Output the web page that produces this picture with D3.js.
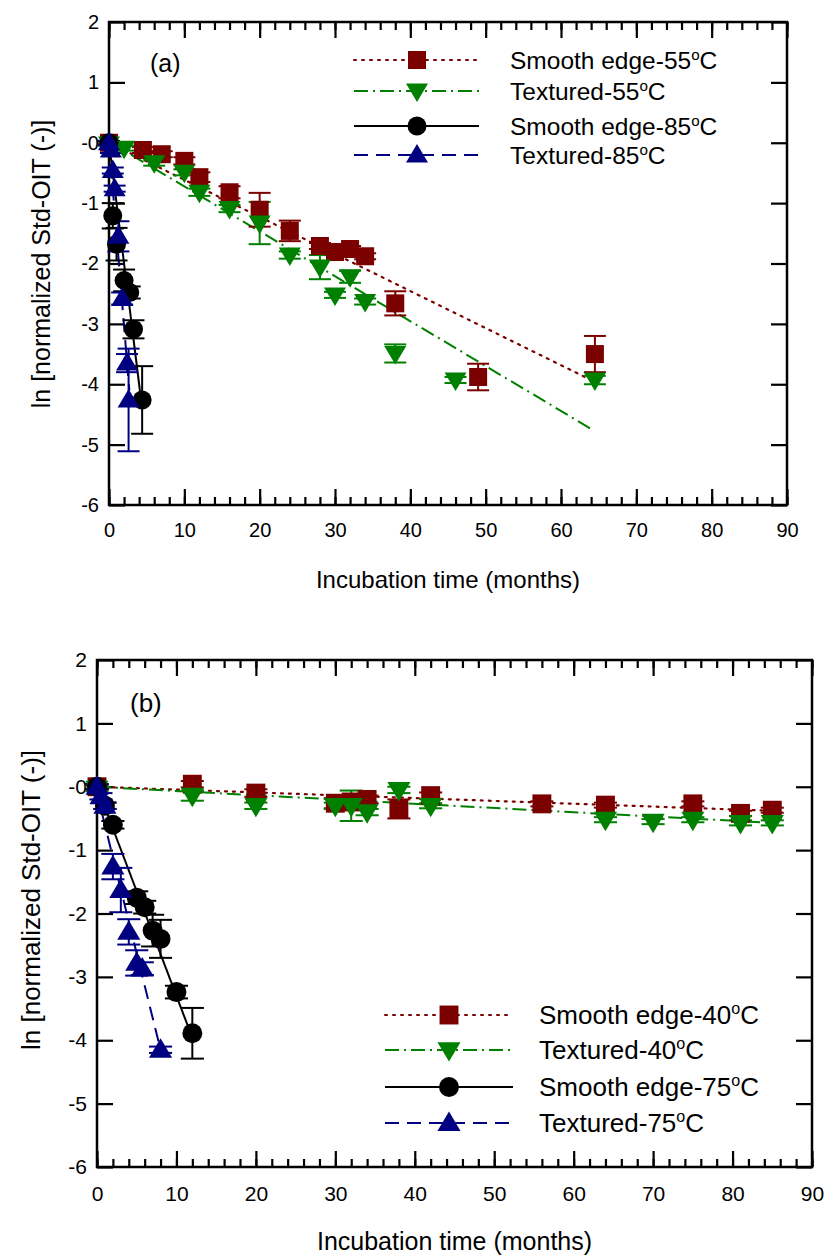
<!DOCTYPE html>
<html>
<head>
<meta charset="utf-8">
<title>Std-OIT depletion</title>
<script src="https://cdn.jsdelivr.net/npm/d3@7"></script>
<style>
  body { margin:0; background:#fff; }
  svg text { font-family: "Liberation Sans", Arial, sans-serif; fill:#000; }
</style>
</head>
<body>
<svg id="fig" width="829" height="1259"></svg>
<script>
// ---- data (months, ln normalized Std-OIT) ----
const xTicks = [0,10,20,30,40,50,60,70,80,90];
const yTicks = [2,1,0,-1,-2,-3,-4,-5,-6];

// panel (a)
const a_smooth55_t = [0,4.5,7,10,12,16,20,24,28,30,32,34,38,49,64.5];
const a_smooth55_v = [0,-0.12,-0.19,-0.3,-0.57,-0.82,-1.11,-1.46,-1.71,-1.81,-1.76,-1.88,-2.66,-3.88,-3.5];
const a_smooth55_e = [0.03,0.05,0.05,0.06,0.08,0.1,0.28,0.17,0.05,0.05,0.05,0.05,0.2,0.22,0.3];
const a_text55_t = [0,2,6,10,12,16,20,24,28,30,32,34,38,46,64.5];
const a_text55_v = [-0.02,-0.09,-0.33,-0.49,-0.82,-1.09,-1.33,-1.86,-2.06,-2.52,-2.22,-2.63,-3.49,-3.93,-3.93];
const a_text55_e = [0.03,0.04,0.05,0.05,0.06,0.06,0.35,0.06,0.2,0.05,0.1,0.05,0.15,0.05,0.07];
const a_smooth85_t = [0,0.5,1,2,2.75,3.25,4.4];
const a_smooth85_v = [0,-1.21,-1.68,-2.28,-2.48,-3.09,-4.26];
const a_smooth85_e = [0.03,0.21,0.27,0.18,0.1,0.15,0.56];
const a_text85_t = [0,0.25,0.5,0.75,1.25,1.75,2.4,2.6];
const a_text85_v = [0,-0.12,-0.46,-0.76,-1.55,-2.58,-3.65,-4.26];
const a_text85_e = [0.03,0.05,0.05,0.05,0.25,0.1,0.15,0.85];
// fitted lines: [t0, v0, t1, v1]
const a_fit_smooth55 = [0,0,64,-3.93];
const a_fit_text55 = [0,0.02,64,-4.74];
const a_fit_smooth85 = [0,0,4.3,-4.3];
const a_fit_text85 = [0,0,2.7,-4.1];

// panel (b)
const b_smooth40_t = [0,12,20,30,32,34,38,42,56,64,75,81,85];
const b_smooth40_v = [0,0.04,-0.1,-0.26,-0.24,-0.2,-0.35,-0.14,-0.27,-0.29,-0.27,-0.42,-0.37];
const b_smooth40_e = [0.04,0.05,0.06,0.08,0.06,0.06,0.15,0.05,0.04,0.04,0.04,0.04,0.04];
const b_text40_t = [0,12,20,30,32,34,38,42,64,70,75,81,85];
const b_text40_v = [-0.03,-0.14,-0.3,-0.3,-0.3,-0.4,-0.05,-0.3,-0.52,-0.55,-0.52,-0.57,-0.57];
const b_text40_e = [0.04,0.08,0.05,0.05,0.24,0.05,0.05,0.04,0.04,0.04,0.04,0.04,0.04];
const b_smooth75_t = [0,1,2,5,6,7,8,10,12];
const b_smooth75_v = [0,-0.3,-0.6,-1.75,-1.9,-2.27,-2.4,-3.24,-3.89];
const b_smooth75_e = [0.04,0.05,0.06,0.1,0.1,0.25,0.3,0.1,0.4];
const b_text75_t = [0,0.5,1,2,3,4,5,5.7,8];
const b_text75_v = [0,-0.15,-0.3,-1.26,-1.63,-2.29,-2.78,-2.87,-4.15];
const b_text75_e = [0.04,0.05,0.05,0.2,0.35,0.2,0.2,0.1,0.05];
const b_fit_smooth40 = [0,0,85,-0.38];
const b_fit_text40 = [0,0,85,-0.57];
const b_fit_smooth75 = [0,0,12,-3.96];
const b_fit_text75 = [0,-0.1,8,-4.15];

// ---- styles ----
const RED = "#7b0000", GRN = "#008000", BLK = "#000", BLU = "#000080";
const dotted = "2,6", dashdot = "14,5,2,5", dashed = "14,8";

const svg = d3.select("#fig");

function marker(g, kind, x, y, col, s) {
  s = s || 1;
  if (kind == "sq") g.append("rect").attr("x", x-9*s).attr("y", y-9*s).attr("width", 18*s).attr("height", 18*s).attr("fill", col);
  else if (kind == "ci") g.append("circle").attr("cx", x).attr("cy", y).attr("r", 9.5*s).attr("fill", col);
  else if (kind == "dn") g.append("path").attr("d", `M${x-11*s},${y-7.5*s}L${x+11*s},${y-7.5*s}L${x},${y+11*s}Z`).attr("fill", col);
  else g.append("path").attr("d", `M${x-11*s},${y+7.5*s}L${x+11*s},${y+7.5*s}L${x},${y-11*s}Z`).attr("fill", col);
}

function panel(P) {
  const x = d3.scaleLinear().domain([0,90]).range([P.x0, P.x1]);
  const y = d3.scaleLinear().domain([-6,2]).range([P.y1, P.y0]);
  const g = svg.append("g");
  const fs = P.fs, k = P.k;

  // axes, ticks inward on all four sides
  const yfmt = v => v === 0 ? "-0" : String(v);
  g.append("g").attr("transform", `translate(0,${P.y1})`)
    .call(d3.axisBottom(x).tickValues(d3.range(0,91,2)).tickSizeInner(-8).tickSizeOuter(0).tickFormat(""));
  g.append("g").attr("transform", `translate(0,${P.y1})`)
    .call(d3.axisBottom(x).tickValues(xTicks).tickSizeInner(-16).tickSizeOuter(0).tickPadding(P.xpad))
    .selectAll("text").attr("font-size", fs.tick);
  g.append("g").attr("transform", `translate(0,${P.y0})`)
    .call(d3.axisTop(x).tickValues(d3.range(0,91,2)).tickSizeInner(-8).tickSizeOuter(0).tickFormat(""));
  g.append("g").attr("transform", `translate(0,${P.y0})`)
    .call(d3.axisTop(x).tickValues(xTicks).tickSizeInner(-16).tickSizeOuter(0).tickFormat(""));
  g.append("g").attr("transform", `translate(${P.x0},0)`)
    .call(d3.axisLeft(y).tickValues(yTicks).tickSizeInner(-16).tickSizeOuter(0).tickPadding(10).tickFormat(yfmt))
    .selectAll("text").attr("font-size", fs.tick);
  g.append("g").attr("transform", `translate(${P.x1},0)`)
    .call(d3.axisRight(y).tickValues(yTicks).tickSizeInner(-16).tickSizeOuter(0).tickFormat(""));
  g.selectAll(".tick line").attr("stroke-width", 2.2);
  g.selectAll(".domain").remove();
  g.selectAll(".tick text").attr("font-family", "Liberation Sans, Arial, sans-serif");
  g.append("rect").attr("x", P.x0).attr("y", P.y0).attr("width", P.x1-P.x0).attr("height", P.y1-P.y0)
    .attr("fill", "none").attr("stroke", "#000").attr("stroke-width", 2.5);

  // titles
  g.append("text").attr("x", (P.x0+P.x1)/2).attr("y", P.titleY).attr("text-anchor", "middle")
    .attr("font-size", fs.title).text("Incubation time (months)");
  g.append("text").attr("transform", `translate(${P.ylabX},${P.ylabY}) rotate(-90)`).attr("text-anchor", "middle")
    .attr("font-size", fs.ylab).text("ln [normalized Std-OIT (-)]");
  g.append("text").attr("x", P.tagX).attr("y", P.tagY).attr("font-size", fs.tag).text(P.tag);

  // fits
  P.series.forEach(s => {
    const f = s.fit;
    g.append("line").attr("x1", x(f[0])).attr("y1", y(f[1])).attr("x2", x(f[2])).attr("y2", y(f[3]))
      .attr("stroke", s.col).attr("stroke-width", s.dash == dotted ? 2.2 : 2).attr("stroke-dasharray", s.dash)
      .attr("stroke-linecap", s.dash == dotted ? "round" : "butt");
  });
  // error bars + markers
  P.series.forEach(s => {
    const eg = g.append("g").attr("stroke", s.col).attr("stroke-width", 2);
    s.t.forEach((t, i) => {
      const cx = x(t), lo = y(s.v[i]-s.e[i]), hi = y(s.v[i]+s.e[i]);
      eg.append("line").attr("x1", cx).attr("x2", cx).attr("y1", lo).attr("y2", hi);
      eg.append("line").attr("x1", cx-11*k).attr("x2", cx+11*k).attr("y1", lo).attr("y2", lo);
      eg.append("line").attr("x1", cx-11*k).attr("x2", cx+11*k).attr("y1", hi).attr("y2", hi);
    });
  });
  P.series.forEach(s => {
    s.t.forEach((t, i) => marker(g, s.mk, x(t), y(s.v[i]), s.col, k));
  });

  // legend
  P.series.forEach((s, i) => {
    const ly = P.leg.y[i];
    g.append("line").attr("x1", P.leg.x0).attr("x2", P.leg.x1).attr("y1", ly).attr("y2", ly)
      .attr("stroke", s.col).attr("stroke-width", 2).attr("stroke-dasharray", s.dash)
      .attr("stroke-linecap", s.dash == dotted ? "round" : "butt");
    marker(g, s.mk, P.leg.xm, ly, s.col, k);
    const tx = g.append("text").attr("x", P.leg.xt).attr("y", ly + fs.leg*0.36).attr("font-size", fs.leg);
    tx.append("tspan").text(s.name);
    tx.append("tspan").attr("dy", -fs.leg*0.38).attr("font-size", fs.leg*0.62).text("o");
    tx.append("tspan").attr("dy", fs.leg*0.38).text("C");
  });
}

panel({
  x0:109, x1:787, y0:22, y1:505, xpad:18, titleY:588, ylabX:50, ylabY:264, k:1,
  tag:"(a)", tagX:150, tagY:72,
  fs:{tick:20, title:24, ylab:25, tag:25, leg:24.5},
  leg:{x0:354, x1:479, xm:417, xt:510, y:[60,91,126,155]},
  series:[
    {name:"Smooth edge-55", t:a_smooth55_t, v:a_smooth55_v, e:a_smooth55_e, fit:a_fit_smooth55, col:RED, mk:"sq", dash:dotted},
    {name:"Textured-55", t:a_text55_t, v:a_text55_v, e:a_text55_e, fit:a_fit_text55, col:GRN, mk:"dn", dash:dashdot},
    {name:"Smooth edge-85", t:a_smooth85_t, v:a_smooth85_v, e:a_smooth85_e, fit:a_fit_smooth85, col:BLK, mk:"ci", dash:null},
    {name:"Textured-85", t:a_text85_t, v:a_text85_v, e:a_text85_e, fit:a_fit_text85, col:BLU, mk:"up", dash:dashed}
  ]
});

panel({
  x0:97, x1:812, y0:660, y1:1167, xpad:19, titleY:1250, ylabX:40, ylabY:900, k:1.05,
  tag:"(b)", tagX:130, tagY:712,
  fs:{tick:21, title:25, ylab:26, tag:26, leg:26},
  leg:{x0:385, x1:513, xm:449, xt:539, y:[1015,1050,1087,1123]},
  series:[
    {name:"Smooth edge-40", t:b_smooth40_t, v:b_smooth40_v, e:b_smooth40_e, fit:b_fit_smooth40, col:RED, mk:"sq", dash:dotted},
    {name:"Textured-40", t:b_text40_t, v:b_text40_v, e:b_text40_e, fit:b_fit_text40, col:GRN, mk:"dn", dash:dashdot},
    {name:"Smooth edge-75", t:b_smooth75_t, v:b_smooth75_v, e:b_smooth75_e, fit:b_fit_smooth75, col:BLK, mk:"ci", dash:null},
    {name:"Textured-75", t:b_text75_t, v:b_text75_v, e:b_text75_e, fit:b_fit_text75, col:BLU, mk:"up", dash:dashed}
  ]
});
</script>
</body>
</html>
